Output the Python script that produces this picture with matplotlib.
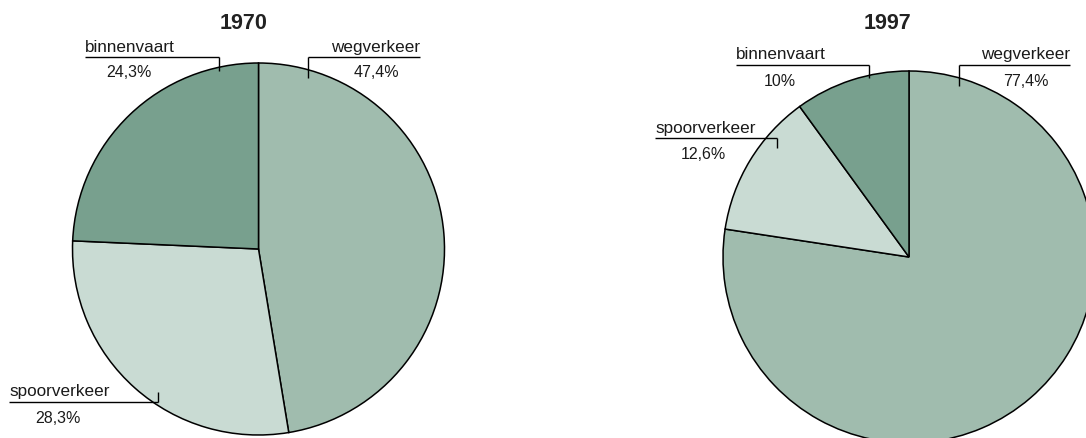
import matplotlib
matplotlib.use("Agg")
import matplotlib.pyplot as plt

# ---- data ----
categories = ["wegverkeer", "spoorverkeer", "binnenvaart"]
years = ["1970", "1997"]
share_1970 = [47.4, 28.3, 24.3]
share_1997 = [77.4, 12.6, 10.0]

COLORS = ["#a0bcae", "#c9dbd3", "#78a08e"]
W, H = 1086, 439
NAME_FONT = ["Liberation Sans", "DejaVu Sans"]
TITLE_FONT = ["Liberation Sans Narrow", "Liberation Sans", "DejaVu Sans"]


def pct(v):
    return f"{v:g}".replace(".", ",") + "%"


fig = plt.figure(figsize=(W / 100, H / 100), dpi=100)
ax = fig.add_axes([0, 0, 1, 1])


def Y(y):
    # pixel row (from top) -> data y
    return H - y


def label(name, value, line, tick_x, tick_end, name_xy, name_ha, val_xy):
    # line: (x0, x1, y) ; tick from line y to tick_end at tick_x
    x0, x1, ly = line
    ax.plot([x0, x1], [Y(ly), Y(ly)], color="black", lw=1.0,
            solid_capstyle="butt", zorder=5)
    ax.plot([tick_x, tick_x], [Y(ly), Y(tick_end)], color="black", lw=1.0,
            solid_capstyle="butt", zorder=5)
    ax.text(name_xy[0], Y(name_xy[1]), name, ha=name_ha, va="baseline",
            fontsize=12.3, family=NAME_FONT, color="#1a1a1a", zorder=6)
    ax.text(val_xy[0], Y(val_xy[1]), pct(value), ha="center", va="baseline",
            fontsize=11.5, family=NAME_FONT, color="#1a1a1a", zorder=6)


R = 186
pies = [
    (share_1970, (258.5, 250.0), years[0], 243.5),
    (share_1997, (909.0, 258.0), years[1], 887.5),
]

for vals, (cx, cy), yr, tx in pies:
    ax.pie(vals, colors=COLORS, startangle=90, counterclock=False,
           center=(cx, Y(cy)), radius=R, frame=True,
           wedgeprops=dict(edgecolor="black", linewidth=1.1))
    ax.text(tx, Y(29.3), yr, ha="center", va="baseline", fontsize=15.5,
            fontweight="bold", family=TITLE_FONT, color="#222222")

# 1970 labels
label(categories[0], share_1970[0], (308.3, 419.5, 58.3), 308.3, 79.3,
      (420, 51.7), "right", (376.7, 77.3))
label(categories[2], share_1970[2], (85, 219.3, 58.3), 219.3, 71.7,
      (85, 51.7), "left", (128.7, 77.3))
label(categories[1], share_1970[1], (9, 158, 403.3), 158, 393.3,
      (9.3, 396), "left", (58.3, 423.3))

# 1997 labels
label(categories[0], share_1997[0], (959.3, 1070, 66), 959.3, 86.7,
      (1070, 59), "right", (1026, 85.7))
label(categories[2], share_1997[2], (736, 869.3, 66), 869.3, 79.3,
      (736, 59), "left", (780, 85.7))
label(categories[1], share_1997[1], (655, 776.7, 139.3), 776.7, 149.3,
      (655, 132.7), "left", (703.3, 159.3))

ax.set_xlim(0, W)
ax.set_ylim(0, H)
ax.set_aspect("auto")
ax.axis("off")

fig.savefig("out.png", dpi=100, facecolor="white")
